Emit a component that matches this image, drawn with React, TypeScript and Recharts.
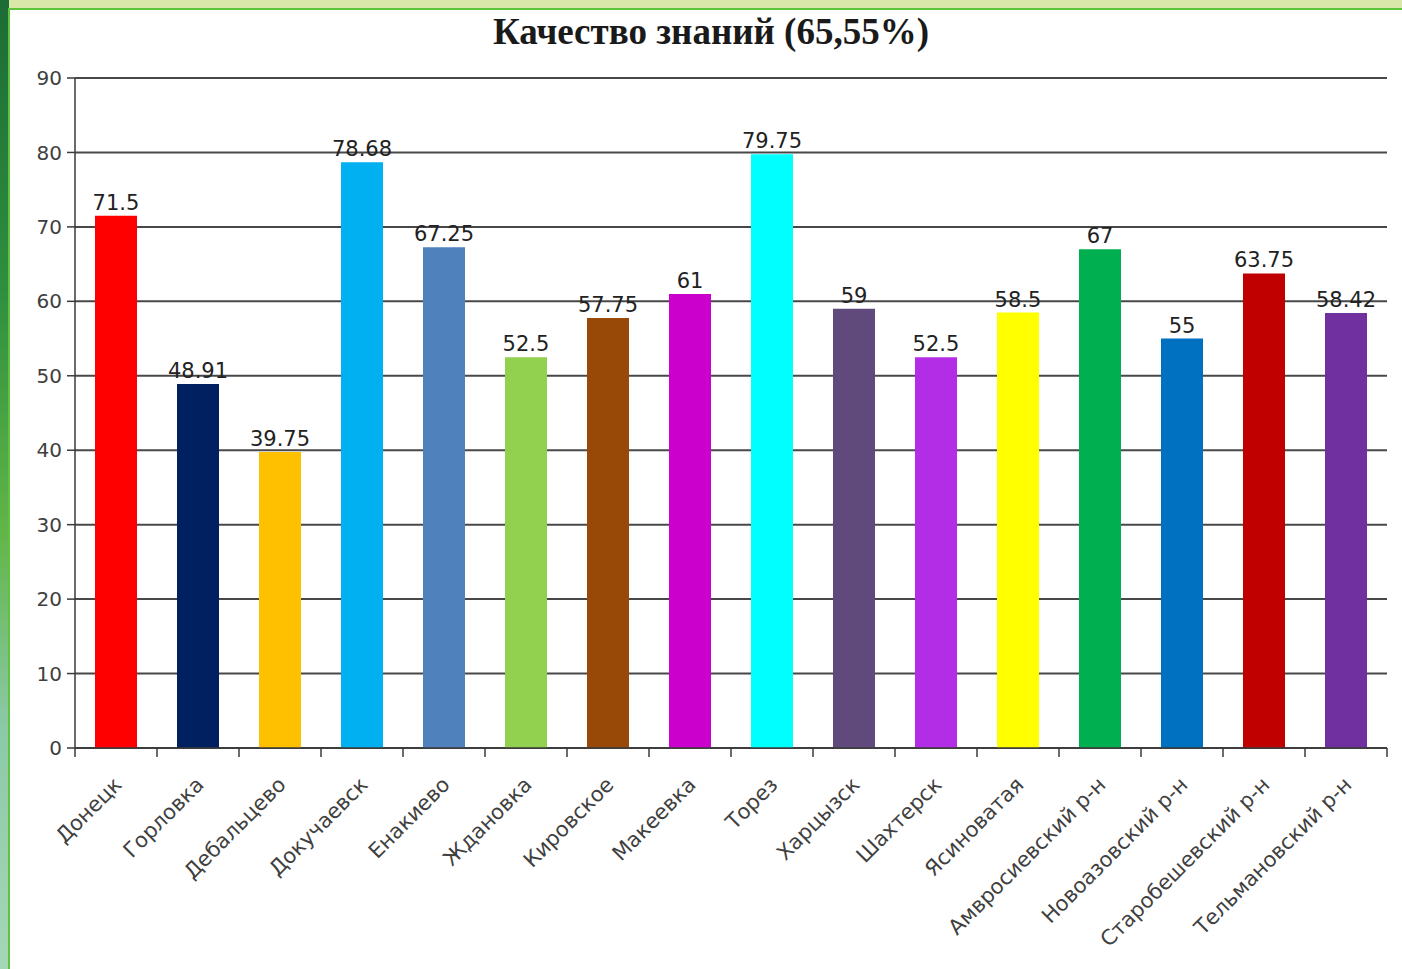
import React from 'react';
import { BarChart, Bar, XAxis, YAxis, CartesianGrid, Cell, LabelList } from 'recharts';

// Качество знаний по городам и районам
const cities = [
  'Донецк',
  'Горловка',
  'Дебальцево',
  'Докучаевск',
  'Енакиево',
  'Ждановка',
  'Кировское',
  'Макеевка',
  'Торез',
  'Харцызск',
  'Шахтерск',
  'Ясиноватая',
  'Амвросиевский р-н',
  'Новоазовский р-н',
  'Старобешевский р-н',
  'Тельмановский р-н',
];

const quality = [71.5, 48.91, 39.75, 78.68, 67.25, 52.5, 57.75, 61, 79.75, 59, 52.5, 58.5, 67, 55, 63.75, 58.42];

const barColors = [
  '#FF0000', '#002060', '#FFC000', '#00B0F0', '#4F81BD', '#92D050', '#984807', '#CC00CC',
  '#00FFFF', '#604A7B', '#B32CE6', '#FFFF00', '#00B050', '#0070C0', '#C00000', '#7030A0',
];

const yTicks = [0, 10, 20, 30, 40, 50, 60, 70, 80, 90];

const data = cities.map((name, i) => ({ name, value: quality[i] }));

const W = 1402;
const H = 969;
const PLOT_LEFT = 75;
const PLOT_RIGHT = 15;
const BAND = (W - PLOT_LEFT - PLOT_RIGHT) / cities.length;

const FONT = '"DejaVu Sans", sans-serif';

const CityTick = (props: any) => {
  const { x, y, payload, index } = props;
  const half = BAND / 2;
  const tx = x + 7;
  const ty = y + 38;
  return (
    <g>
      <line x1={x - half} x2={x - half} y1={y} y2={y + 9} stroke="#3a3a3a" strokeWidth={1.5} />
      {index === cities.length - 1 && (
        <line x1={x + half} x2={x + half} y1={y} y2={y + 9} stroke="#3a3a3a" strokeWidth={1.5} />
      )}
      <text
        x={tx}
        y={ty}
        transform={`rotate(-45 ${tx} ${ty})`}
        textAnchor="end"
        fontFamily={FONT}
        fontSize={21}
        fill="#404040"
      >
        {payload.value}
      </text>
    </g>
  );
};

export default function App() {
  return (
    <div style={{ position: 'absolute', left: 0, top: 0, width: W, height: H, overflow: 'hidden', background: '#d9e8a8' }}>
      <div
        style={{
          position: 'absolute',
          left: 0,
          top: 0,
          width: 9,
          height: H,
          background: 'linear-gradient(to bottom, #1d6b35 0%, #2f8f3f 30%, #62b548 55%, #8cc9a8 75%, #a6d6b8 100%)',
        }}
      />
      <div
        style={{
          position: 'absolute',
          left: 8,
          top: 8,
          width: W - 8,
          height: H - 8,
          background: '#ffffff',
          borderLeft: '2px solid #5cc43c',
          borderTop: '2px solid #5cc43c',
          boxSizing: 'border-box',
        }}
      />
      <div
        style={{
          position: 'absolute',
          left: 0,
          top: 10,
          width: 1422,
          textAlign: 'center',
          fontFamily: '"Liberation Serif", serif',
          fontWeight: 'bold',
          fontSize: 37,
          color: '#1a1a1a',
        }}
      >
        Качество знаний (65,55%)
      </div>
      <div style={{ position: 'absolute', left: 0, top: 0 }}>
        <BarChart width={W} height={H} data={data} margin={{ top: 78, right: PLOT_RIGHT, left: 0, bottom: 0 }}>
          <CartesianGrid vertical={false} stroke="#484848" strokeWidth={2} horizontalValues={yTicks} />
          <XAxis
            dataKey="name"
            interval={0}
            height={221}
            tickSize={0}
            tickMargin={0}
            tickLine={false}
            axisLine={{ stroke: '#3a3a3a', strokeWidth: 1.5 }}
            tick={<CityTick />}
          />
          <YAxis
            width={PLOT_LEFT}
            domain={[0, 90]}
            ticks={yTicks}
            interval={0}
            tickSize={8}
            tickMargin={5}
            tickLine={{ stroke: '#3a3a3a', strokeWidth: 1.5 }}
            axisLine={{ stroke: '#3a3a3a', strokeWidth: 1.5 }}
            tick={{ fontFamily: FONT, fontSize: 20, fill: '#404040' }}
          />
          <Bar dataKey="value" barSize={42} isAnimationActive={false}>
            {data.map((d, i) => (
              <Cell key={d.name} fill={barColors[i]} />
            ))}
            <LabelList dataKey="value" position="top" offset={6} fontFamily={FONT} fontSize={21} fill="#222222" />
          </Bar>
        </BarChart>
      </div>
    </div>
  );
}
